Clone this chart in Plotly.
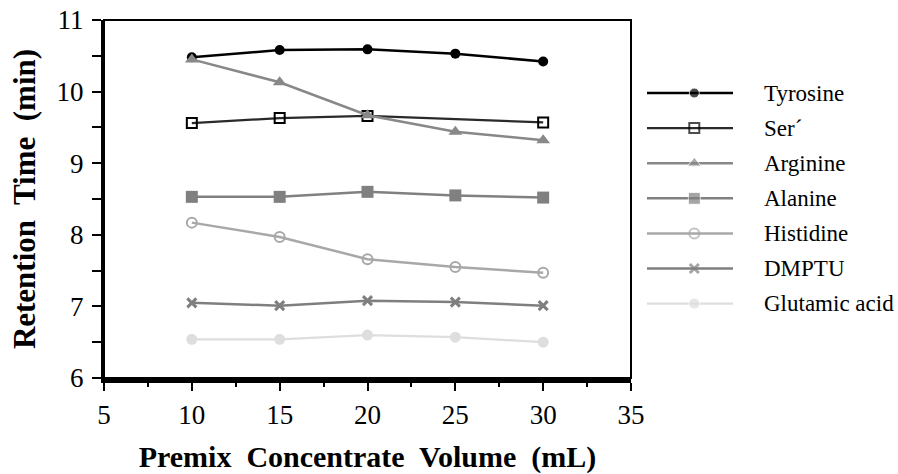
import plotly.graph_objects as go

volume = [10, 15, 20, 25, 30]

tyrosine = [10.48, 10.58, 10.59, 10.53, 10.42]
ser = [9.56, 9.63, 9.66, None, 9.57]
arginine = [10.45, 10.13, 9.67, 9.44, 9.32]
alanine = [8.53, 8.53, 8.60, 8.55, 8.52]
histidine = [8.17, 7.97, 7.66, 7.55, 7.47]
dmptu = [7.05, 7.01, 7.08, 7.06, 7.01]
glutamic = [6.54, 6.54, 6.60, 6.57, 6.50]

names = ["Tyrosine", "Ser\u00b4", "Arginine", "Alanine", "Histidine", "DMPTU", "Glutamic acid"]
values = [tyrosine, ser, arginine, alanine, histidine, dmptu, glutamic]

x_ticks = [5, 10, 15, 20, 25, 30, 35]
y_ticks = [6, 7, 8, 9, 10, 11]

line_colors = ["#000000", "#2a2a2a", "#888888", "#808080", "#a8a8a8", "#7f7f7f", "#dedede"]
line_widths = [2.5, 2.2, 2.5, 2.5, 2.5, 2.5, 2.2]
markers = [
    dict(symbol="circle", size=10, color="#000000"),
    dict(symbol="square-open", size=10, color="#000000", line=dict(width=2, color="#000000")),
    dict(symbol="triangle-up", size=12, color="#888888"),
    dict(symbol="square", size=12, color="#808080"),
    dict(symbol="circle-open", size=10, color="#a8a8a8", line=dict(width=2, color="#a8a8a8")),
    dict(symbol="x-thin-open", size=9, color="#7f7f7f", line=dict(width=3, color="#7f7f7f")),
    dict(symbol="circle", size=11, color="#dedede"),
]

font_family = "Liberation Serif"
W, H = 898, 474
L, T = 104, 20
plot_right, plot_bottom = 631, 378
B = H - plot_bottom
PW = W - L
main_dom = (plot_right - L) / PW

fig = go.Figure()
for name, vals, col, lw, mk in zip(names, values, line_colors, line_widths, markers):
    fig.add_trace(go.Scatter(
        x=volume, y=vals, name=name, mode="lines+markers",
        line=dict(color=col, width=lw), marker=mk, connectgaps=True,
        showlegend=False, xaxis="x", yaxis="y",
    ))

# legend keys drawn on a hidden helper axis (index-based rows)
annotations = []
for i, (name, col, lw, mk) in enumerate(zip(names, line_colors, line_widths, markers)):
    fig.add_trace(go.Scatter(
        x=[0, 1.1, 2], y=[i, i, i], mode="lines+markers",
        line=dict(color=col, width=lw),
        marker=dict(mk, size=[0, mk["size"], 0]),
        showlegend=False, hoverinfo="skip", xaxis="x2", yaxis="y2",
    ))
    annotations.append(dict(
        x=(762 - L) / PW, xref="paper", y=i, yref="y2",
        text=name, showarrow=False, xanchor="left", yanchor="middle",
        font=dict(family=font_family, size=23, color="black"),
    ))

row_px = 35.1
first_px = 93
top_idx = (T - first_px) / row_px
bot_idx = (plot_bottom - first_px) / row_px

fig.update_layout(
    width=W, height=H,
    margin=dict(l=L, r=0, t=T, b=B, autoexpand=False),
    paper_bgcolor="white", plot_bgcolor="white",
    font=dict(family=font_family, color="black", size=27),
    showlegend=False,
    xaxis=dict(
        domain=[0, main_dom], automargin=False,
        range=[5, 35], tickvals=x_ticks, ticktext=[str(v) for v in x_ticks],
        showgrid=False, zeroline=False,
        showline=True, linecolor="black", linewidth=4.5,
        ticks="outside", ticklen=8, tickwidth=2, tickcolor="black",
        ticklabelstandoff=1, ticklabeloverflow="allow",
        minor=dict(dtick=2.5, ticks="outside", ticklen=4, tickwidth=2, tickcolor="black", showgrid=False),
        tickfont=dict(size=27, family=font_family),
        title=dict(text="<b>Premix\u00a0 Concentrate\u00a0 Volume\u00a0 (mL)</b>",
                   font=dict(size=30, family=font_family), standoff=23),
    ),
    yaxis=dict(
        domain=[0, 1], automargin=False,
        range=[6, 11], tickvals=y_ticks, ticktext=[str(v) for v in y_ticks],
        showgrid=False, zeroline=False,
        showline=True, linecolor="black", linewidth=3,
        ticks="outside", ticklen=9, tickwidth=2, tickcolor="black",
        ticklabelstandoff=3, ticklabeloverflow="allow",
        minor=dict(dtick=0.5, ticks="outside", ticklen=9, tickwidth=2, tickcolor="black", showgrid=False),
        tickfont=dict(size=27, family=font_family),
        title=dict(text="<b>Retention\u00a0 Time\u00a0 (min)</b>",
                   font=dict(size=31, family=font_family), standoff=12),
    ),
    xaxis2=dict(domain=[(647 - L) / PW, (733 - L) / PW], range=[0, 2], visible=False,
                fixedrange=True, automargin=False),
    yaxis2=dict(domain=[0, 1], range=[bot_idx, top_idx], visible=False, anchor="x2",
                fixedrange=True, automargin=False),
    annotations=annotations,
    shapes=[dict(type="rect", xref="x domain", yref="y domain", x0=0, y0=0, x1=1, y1=1,
                 line=dict(color="black", width=2), layer="above")],
)

fig.write_html(
    "out.html",
    config={"displayModeBar": False},
    post_script="document.body.style.margin='0';document.body.style.overflow='hidden';",
)
